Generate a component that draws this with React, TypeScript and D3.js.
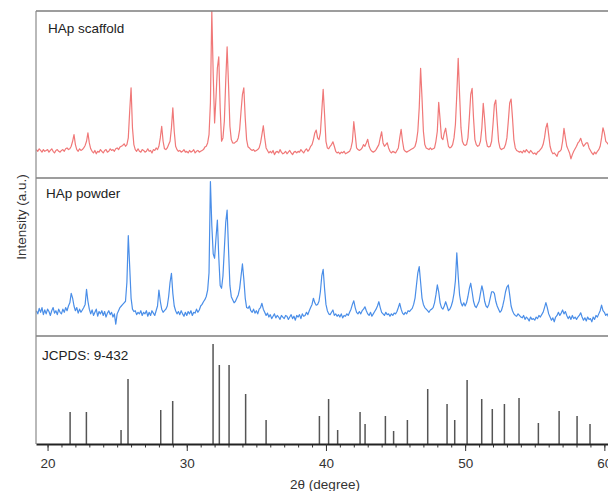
import React, { useEffect, useRef } from 'react';
import * as d3 from 'd3';

// XRD patterns, intensity sampled every 0.1 deg starting at 19.2 deg
const THETA_START = 19.2;
const THETA_STEP = 0.1;

const scaffold = [
  17, 16, 17.5, 16.5, 15.5, 17, 16, 16.5,
  17, 15.5, 16.5, 17.5, 16, 15, 16.5, 17, 16, 15.5,
  16.5, 17, 16, 17.5, 18, 17, 17.5, 19, 22, 26,
  20, 17, 16, 17.5, 16.5, 17, 18, 19.5, 22, 27,
  21, 17.5, 16, 15, 16.5, 14.5, 16, 15.5, 17, 16,
  15, 16.5, 17, 15.5, 16, 17.5, 16.5, 17, 16, 17.5,
  18, 17, 18.5, 19, 19.5, 20.5, 19, 20, 24, 40,
  54, 30, 20, 17, 16, 17.5, 16, 15.5, 17, 16.5,
  15.5, 16, 17.5, 16, 16.5, 15, 17, 16.5, 18, 17,
  19, 24, 31, 22, 17.5, 17, 18, 20, 22, 30,
  42, 28, 19, 17, 16, 16.5, 15.5, 16, 17, 15.5,
  16, 15, 16.5, 15.5, 16, 17, 15, 16, 16.5, 15.5,
  16, 16.5, 17, 18.5, 19, 21, 26, 45, 100, 62,
  33, 48, 66, 72.6, 42, 22, 24, 34, 58, 78.6,
  56, 31, 23, 21, 20.8, 21.5, 22, 24, 29, 40,
  50, 54, 36, 23, 18.7, 18, 17, 16.5, 17, 16,
  16.5, 17, 18, 21, 26, 31.3, 24, 18, 16.5, 15,
  16, 15, 16.5, 14, 15.5, 16, 15, 17, 15.5, 14.5,
  15, 16, 14.5, 15.5, 16.5, 15, 14, 15.5, 16, 15,
  16, 15.5, 17, 16, 15, 16.5, 17.5, 16, 17, 19,
  20, 23, 27, 28.7, 24, 23, 27, 40, 53.1, 38,
  22, 18, 17.5, 19, 20, 21.7, 19, 16, 15, 15.5,
  14.5, 15.5, 15, 16, 14.5, 15, 15.5, 16, 18, 22,
  33.7, 26, 18, 17, 16.5, 17, 18, 20, 19, 21,
  23.2, 19, 17, 16, 15.5, 16, 17, 18.5, 20, 24,
  27.7, 21, 19, 20, 21.1, 18, 16, 15, 16, 15.5,
  15, 16.5, 18, 24, 29.2, 22, 17, 16, 15.5, 16,
  16.5, 17, 17.5, 18, 19, 22, 28, 42, 65.7, 48,
  28, 20, 18, 17.5, 17, 18, 17, 17.5, 18, 22,
  28, 45.3, 35, 24, 23, 27, 29.8, 24, 19, 18,
  18.5, 20, 24, 32, 50, 71.7, 50, 30, 22, 20,
  19.5, 20, 24, 36, 50, 53.7, 36, 23, 20, 19,
  19.5, 22, 30, 44.7, 35, 23, 19, 18.5, 19, 22,
  32, 44, 46.7, 34, 22, 18, 17, 17.5, 18, 20,
  24, 34, 45, 47.3, 36, 23, 18, 16.5, 16, 15.5,
  16, 15, 16.5, 15.5, 17, 16, 15, 16.5, 15.5, 14.5,
  15, 14, 15.5, 16, 17, 18, 20, 24, 30, 32.8,
  26, 19, 16, 14.5, 15, 14, 13, 15.5, 16, 17,
  22, 29.8, 24, 19, 17, 15, 11.5, 14, 16, 17.5,
  19, 21, 22, 23.8, 21, 19, 20, 21, 21, 18,
  16.5, 15, 14, 15.5, 14.5, 16, 17, 19, 24, 30.1,
  27, 22, 21, 20, 19,
];

const powder = [
  16, 14, 17.5, 15, 18, 13.5, 16.5, 14,
  17, 15.5, 13, 16, 18, 14.5, 16, 13.5, 17, 15,
  14, 17, 15, 18, 16, 19, 21, 27, 24, 19,
  16, 18, 14.5, 17, 15, 16.5, 18, 20, 29.6, 22,
  17, 14, 16.5, 13, 15, 17, 12.5, 15.5, 14, 16,
  13, 15.5, 12, 14.5, 16, 13.5, 15, 12, 14, 7.5,
  14, 16, 18, 19, 20, 21, 22, 34, 63.5, 44,
  24, 17, 15.5, 16, 13.5, 15, 14, 16, 13, 15,
  14, 16, 12.5, 15, 13, 16, 14.5, 13, 16, 19,
  29.1, 22, 17, 15, 16, 17, 19, 25, 34, 39.7,
  27, 19, 16, 14, 15.5, 13.5, 16, 14, 12.5, 15,
  13, 15.5, 14, 16, 13, 15, 14.5, 17, 15, 16.5,
  19, 20, 21.7, 23, 25, 29, 40, 97.7, 70, 52,
  49.2, 62, 73.4, 50, 32, 30.2, 38, 55, 72, 79.7,
  55, 32, 24.9, 23, 21, 22, 24, 26, 30, 38,
  45.6, 36, 24, 18, 17.5, 19, 16, 15, 17, 14.5,
  16, 14, 17, 18, 20.7, 17, 15, 13, 14.5, 12,
  13.5, 11, 12.5, 14, 11.5, 13, 12, 10.5, 13, 12,
  11, 13, 12.5, 10.5, 12, 13.5, 11, 12.5, 10, 13,
  12, 13.5, 11, 14, 12.5, 13, 15, 13.5, 16, 18,
  20, 23.9, 21, 19.5, 20, 22, 28, 38, 42.2, 30,
  20, 16, 14, 13.5, 15, 16.5, 13, 14, 12.5, 13.5,
  12, 14, 11.5, 13, 12.5, 14, 13, 15, 17, 20,
  22.3, 18, 15, 14, 15.5, 14, 16, 17, 18.5, 16,
  14, 13, 15, 12.5, 14, 15.5, 17, 19, 21.7, 18,
  15, 14, 13, 15, 13.5, 14, 12.5, 14, 13, 14.5,
  14, 15.5, 18, 20.7, 17, 14.5, 13.5, 15, 14, 16,
  15.5, 16.5, 17.5, 20, 24, 32, 40, 43.9, 34, 24,
  20, 18, 17, 16, 15, 16.5, 17, 18, 21, 26,
  32.3, 28, 21, 18, 17, 19, 21.7, 19, 16, 17,
  19, 22, 27, 35, 52.7, 38, 26, 21, 19, 21,
  19, 21, 25, 30, 33.4, 28, 22, 19, 18, 20,
  22, 27, 31.8, 28, 22, 19, 18, 20, 24, 28,
  28, 27, 22, 19, 17, 15, 16, 19, 23, 28,
  31, 32.3, 26, 19, 16, 14, 13, 12.5, 14, 13,
  12, 11.5, 13, 10.5, 12, 11, 9.5, 12, 10.5, 11,
  10, 12, 11, 13, 12, 13.5, 15, 18, 21.1, 18,
  14, 12, 10, 11.5, 9, 12, 13, 15, 13, 14.5,
  16.5, 14, 15.5, 13, 11, 12.5, 10.5, 13, 11, 12,
  10.5, 12, 13, 14.7, 12, 10, 11.5, 9.5, 12, 10.5,
  11, 9, 12, 10.5, 13, 12, 14, 16, 19.6, 16,
  15, 13, 14, 12, 13,
];

// JCPDS 9-432 reference lines
const refTheta = [
  21.62, 22.79, 25.28, 25.78, 28.13, 28.99, 31.89, 32.34, 33.04, 34.23, 35.7,
  39.53, 40.19, 40.84, 42.45, 42.81, 44.27, 44.86, 45.85, 47.31, 48.7, 49.25,
  50.14, 51.19, 51.95, 52.82, 53.87, 55.26, 56.75, 58.04, 58.97,
];
const refIntensity = [
  32, 32, 14, 65, 34, 43, 100, 79, 79, 50, 24,
  28, 45, 14, 32, 20, 28, 13, 24, 55, 40, 24,
  64, 45, 35, 40, 46, 21, 33, 28, 20,
];

const majorTicks = [20, 30, 40, 50, 60];
const minorTicks = d3.range(20, 61);

const panelLabels = ['HAp scaffold', 'HAp powder', 'JCPDS: 9-432'];

const FONT = '"Liberation Sans", Arial, Helvetica, sans-serif';

const W = 608;
const H = 491;
const LEFT = 36;
const TOP = 11;
const SEP1 = 178;
const SEP2 = 336;
const BOTTOM = 444;

const x = d3.scaleLinear().domain([19.17, 61]).range([LEFT, LEFT + (61 - 19.17) * 13.92]);
const yScaffold = d3.scaleLinear().domain([0, 100]).range([SEP1, TOP]);
const yPowder = d3.scaleLinear().domain([0, 100]).range([SEP2, SEP1]);
const yRef = d3.scaleLinear().domain([0, 108]).range([BOTTOM, SEP2]);

const toPoints = (vals: number[]) => vals.map((v, i) => [THETA_START + i * THETA_STEP, v] as [number, number]);

const App = () => {
  const axisRef = useRef<SVGGElement>(null);

  useEffect(() => {
    const g = d3.select(axisRef.current);
    g.selectAll('*').remove();

    const minor = g.append('g').call(
      d3.axisBottom(x).tickValues(minorTicks).tickSize(3.5).tickSizeOuter(0).tickFormat(() => '')
    );
    minor.select('.domain').remove();
    minor.selectAll('line').attr('stroke', '#333').attr('stroke-width', 1);

    const major = g.append('g').call(
      d3.axisBottom(x).tickValues(majorTicks).tickSize(7).tickPadding(7).tickSizeOuter(0).tickFormat(d3.format('d'))
    );
    major.select('.domain').attr('stroke', '#222').attr('stroke-width', 1.8);
    major.selectAll('line').attr('stroke', '#333').attr('stroke-width', 1);
    major.selectAll('text')
      .attr('fill', '#333')
      .style('font-family', FONT)
      .style('font-size', '13.5px');
  }, []);

  const lineScaffold = d3.line<[number, number]>().x(d => x(d[0])).y(d => yScaffold(d[1]));
  const linePowder = d3.line<[number, number]>().x(d => x(d[0])).y(d => yPowder(d[1]));

  return (
    <svg width={W} height={H} style={{ position: 'absolute', left: 0, top: 0, background: '#fff' }}>
      <defs>
        <clipPath id="clip1"><rect x={LEFT} y={TOP} width={W} height={SEP1 - TOP} /></clipPath>
        <clipPath id="clip2"><rect x={LEFT} y={SEP1} width={W} height={SEP2 - SEP1} /></clipPath>
      </defs>

      <path d={lineScaffold(toPoints(scaffold)) || ''} fill="none" stroke="#f07878" strokeWidth={1.2}
        strokeLinejoin="round" clipPath="url(#clip1)" />
      <path d={linePowder(toPoints(powder)) || ''} fill="none" stroke="#4a8ee8" strokeWidth={1.2}
        strokeLinejoin="round" clipPath="url(#clip2)" />

      <g>
        {refTheta.map((t, i) => (
          <line key={i} x1={x(t)} x2={x(t)} y1={yRef(0)} y2={yRef(refIntensity[i])}
            stroke="#555" strokeWidth={1.5} />
        ))}
      </g>

      {/* frame */}
      <line x1={LEFT} x2={W} y1={TOP} y2={TOP} stroke="#7c7c7c" strokeWidth={1.5} />
      <line x1={LEFT} x2={W} y1={SEP1} y2={SEP1} stroke="#7c7c7c" strokeWidth={1.5} />
      <line x1={LEFT} x2={W} y1={SEP2} y2={SEP2} stroke="#7c7c7c" strokeWidth={1.5} />
      <line x1={LEFT} x2={LEFT} y1={TOP} y2={BOTTOM} stroke="#8a8a8a" strokeWidth={1.2} />

      <g ref={axisRef} transform={`translate(0,${BOTTOM})`} />

      <g style={{ fontFamily: FONT, fontSize: '13.5px' }} fill="#222">
        <text x={48} y={33}>{panelLabels[0]}</text>
        <text x={46} y={198}>{panelLabels[1]}</text>
        <text x={42} y={360}>{panelLabels[2]}</text>
        <text x={325} y={489} textAnchor="middle" fill="#333">2θ (degree)</text>
        <text transform="translate(26,217) rotate(-90)" textAnchor="middle" fill="#333">Intensity (a.u.)</text>
      </g>
    </svg>
  );
};

export default App;
